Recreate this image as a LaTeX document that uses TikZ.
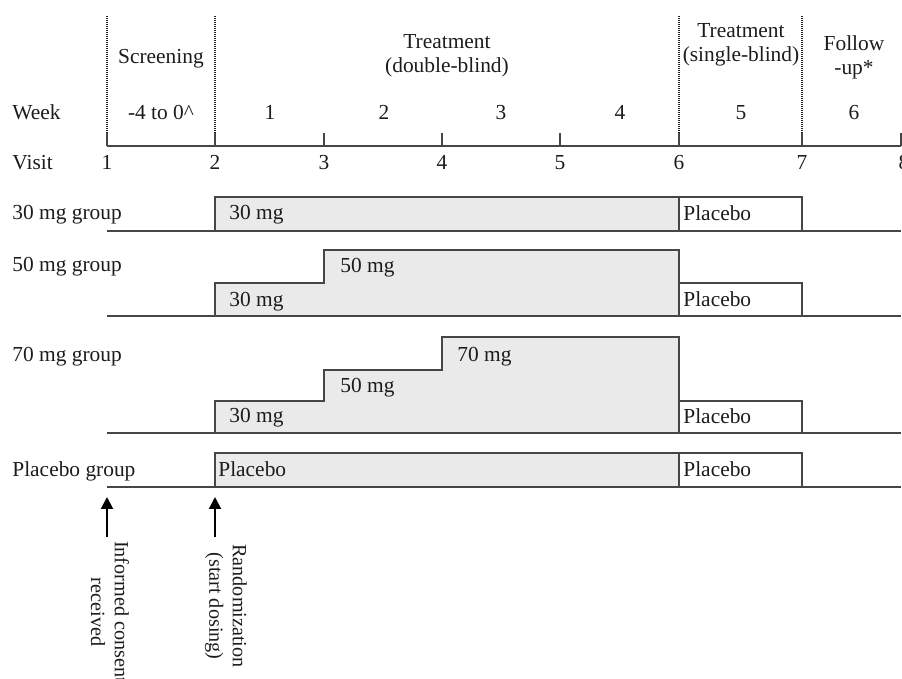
\documentclass[tikz,border=0pt]{standalone}
\usepackage{fontspec}
\setmainfont{Liberation Serif}
\usetikzlibrary{arrows.meta}
\definecolor{trline}{RGB}{70,70,70}
\definecolor{trdot}{RGB}{35,35,35}
\definecolor{trfill}{RGB}{234,234,234}
\definecolor{trink}{RGB}{28,28,28}
\tikzset{
  lbl/.style={inner sep=0pt, text=trink, font=\fontsize{10.7}{12}\selectfont},
  hdr/.style={lbl, align=center},
  evt/.style={hdr, rotate=-90, font=\fontsize{10.1}{11.8}\selectfont},
  base/.style={draw=trline, line width=0.8pt},
  phase/.style={draw=trdot, line width=1.1pt, dash pattern=on 0.5pt off 0.5pt},
  dose/.style={draw=trline, line width=0.75pt, fill=trfill},
  pbo/.style={draw=trline, line width=0.75pt, fill=white},
  arr/.style={-{Triangle[length=6pt,width=6pt]}, draw=black, line width=1pt},
  every picture/.append style={line join=miter}
}

\begin{document}
\begin{tikzpicture}[x=0.5pt, y=-0.5pt]
  \useasboundingbox (0,0) rectangle (902,679);
  % visit axis
  \coordinate (v1) at (107,146);
  \coordinate (v2) at (215,146);
  \coordinate (v3) at (324,146);
  \coordinate (v4) at (442,146);
  \coordinate (v5) at (560,146);
  \coordinate (v6) at (679,146);
  \coordinate (v7) at (802,146);
  \coordinate (v8) at (901,146);
  \draw[base] (v1) -- (v8);
  \draw[base] (v3) -- ++(0,-13);
  \draw[base] (v4) -- ++(0,-13);
  \draw[base] (v5) -- ++(0,-13);
  \draw[base] (v8) -- ++(0,-13);
  \draw[base] (v1) -- ++(0,-13) edge[phase] ++(0,-118);
  \draw[base] (v2) -- ++(0,-13) edge[phase] ++(0,-118);
  \draw[base] (v6) -- ++(0,-13) edge[phase] ++(0,-118);
  \draw[base] (v7) -- ++(0,-13) edge[phase] ++(0,-118);
  % phases
  \node[lbl, anchor=base] (scr) at (161,64) {Screening};
  \node[hdr] (dbl) at (447,56) {Treatment\\(double-blind)};
  \node[hdr] (sgl) at (741,45) {Treatment\\(single-blind)};
  \node[hdr] (fup) at (854,57) {Follow\\-up*};
  % weeks
  \node[lbl, anchor=base west] (week) at (12,120) {Week};
  \node[lbl, anchor=base] (wk0) at (161,120) {-4 to 0\textasciicircum};
  \node[lbl, anchor=base] (wk1) at (270,120) {1};
  \node[lbl, anchor=base] (wk2) at (384,120) {2};
  \node[lbl, anchor=base] (wk3) at (501,120) {3};
  \node[lbl, anchor=base] (wk4) at (620,120) {4};
  \node[lbl, anchor=base] (wk5) at (741,120) {5};
  \node[lbl, anchor=base] (wk6) at (854,120) {6};
  % visits
  \node[lbl, anchor=base west] (visit) at (12,170) {Visit};
  \node[lbl, anchor=base] (n1) at (107,170) {1};
  \node[lbl, anchor=base] (n2) at (215,170) {2};
  \node[lbl, anchor=base] (n3) at (324,170) {3};
  \node[lbl, anchor=base] (n4) at (442,170) {4};
  \node[lbl, anchor=base] (n5) at (560,170) {5};
  \node[lbl, anchor=base] (n6) at (679,170) {6};
  \node[lbl, anchor=base] (n7) at (802,170) {7};
  \node[lbl, anchor=base] (n8) at (904,170) {8};
  % 30 mg group
  \draw[dose] (215,231) rectangle (679,197);
  \draw[pbo] (679,231) rectangle (802,197);
  \draw[base] (107,231) -- (901,231);
  \node[lbl, anchor=base west] (g30) at (12,220) {30 mg group};
  \node[lbl, anchor=base west] (g30a) at (229,220) {30 mg};
  \node[lbl, anchor=base west] (g30p) at (683,221) {Placebo};
  % 50 mg group
  \draw[dose] (215,316) |- (324,283) |- (679,250) -- (679,316) -- cycle;
  \draw[pbo] (679,316) rectangle (802,283);
  \draw[base] (107,316) -- (901,316);
  \node[lbl, anchor=base west] (g50) at (12,272) {50 mg group};
  \node[lbl, anchor=base west] (g50b) at (340,273) {50 mg};
  \node[lbl, anchor=base west] (g50a) at (229,307) {30 mg};
  \node[lbl, anchor=base west] (g50p) at (683,307) {Placebo};
  % 70 mg group
  \draw[dose] (215,433) |- (324,401) |- (442,370) |- (679,337) -- (679,433) -- cycle;
  \draw[pbo] (679,433) rectangle (802,401);
  \draw[base] (107,433) -- (901,433);
  \node[lbl, anchor=base west] (g70) at (12,362) {70 mg group};
  \node[lbl, anchor=base west] (g70c) at (457,362) {70 mg};
  \node[lbl, anchor=base west] (g70b) at (340,393) {50 mg};
  \node[lbl, anchor=base west] (g70a) at (229,423) {30 mg};
  \node[lbl, anchor=base west] (g70p) at (683,424) {Placebo};
  % placebo group
  \draw[dose] (215,487) rectangle (679,453);
  \draw[pbo] (679,487) rectangle (802,453);
  \draw[base] (107,487) -- (901,487);
  \node[lbl, anchor=base west] (gpl) at (12,477) {Placebo group};
  \node[lbl, anchor=base west] (gpla) at (218,477) {Placebo};
  \node[lbl, anchor=base west] (gplp) at (683,477) {Placebo};
  % events
  \coordinate (icTail) at (107,537);
  \coordinate (icTip) at (107,497);
  \coordinate (rdTail) at (215,537);
  \coordinate (rdTip) at (215,497);
  \draw[arr] (icTail) -- (icTip);
  \draw[arr] (rdTail) -- (rdTip);
  \node[evt] (consent) at (110,612) {Informed consent\\received};
  \node[evt] (rand) at (226,606) {Randomization\\(start dosing)};
\end{tikzpicture}
\end{document}
